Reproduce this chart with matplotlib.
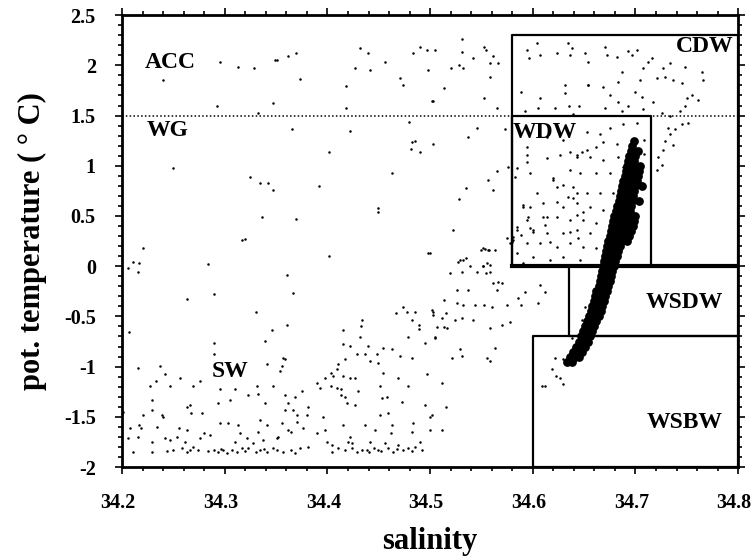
import matplotlib
matplotlib.use("Agg")
import matplotlib.pyplot as plt
import matplotlib.transforms as mtransforms
from matplotlib.ticker import MultipleLocator
import numpy as np

# ---- data: (salinity, pot. temperature) ----
upper_pts = [
    (34.295, 2.03), (34.313, 1.98), (34.328, 1.97), (34.349, 2.05), (34.240, 1.85),
    (34.292, 1.60), (34.347, 1.62), (34.332, 1.53), (34.250, 0.98), (34.325, 0.89),
    (34.334, 0.83), (34.342, 0.83), (34.347, 0.76), (34.336, 0.49), (34.317, 0.26),
    (34.320, 0.27), (34.351, 2.05), (34.362, 2.09), (34.369, 2.12), (34.373, 1.86),
    (34.432, 2.17), (34.439, 2.12), (34.427, 1.97), (34.441, 1.95), (34.418, 1.79),
    (34.456, 2.03), (34.490, 2.18), (34.497, 2.15), (34.483, 2.12), (34.498, 1.95),
    (34.471, 1.87), (34.474, 1.80), (34.502, 1.64), (34.418, 1.58), (34.365, 1.37),
    (34.422, 1.35), (34.479, 1.44), (34.401, 1.14), (34.482, 1.24), (34.485, 1.25),
    (34.481, 1.17), (34.490, 1.14), (34.503, 1.22), (34.463, 0.93), (34.392, 0.80),
    (34.449, 0.58), (34.449, 0.54), (34.369, 0.47), (34.531, 2.26), (34.505, 2.15),
    (34.531, 2.13), (34.542, 2.07), (34.552, 2.18), (34.554, 2.15), (34.561, 2.09),
    (34.558, 2.02), (34.566, 2.02), (34.528, 2.00), (34.532, 1.97), (34.520, 1.97),
    (34.558, 1.88), (34.513, 1.77), (34.503, 1.64), (34.552, 1.67), (34.565, 1.58),
    (34.546, 1.38), (34.537, 1.29), (34.573, 1.37), (34.576, 0.99), (34.565, 0.95),
    (34.556, 0.86), (34.535, 0.78), (34.561, 0.76), (34.528, 0.67), (34.522, 0.36),
]

cdw_pts = [
    (34.594, 2.15), (34.604, 2.22), (34.596, 2.07), (34.607, 2.10), (34.624, 2.12),
    (34.634, 2.22), (34.638, 2.17), (34.636, 2.10), (34.651, 2.12), (34.654, 2.03),
    (34.631, 1.80), (34.631, 1.72), (34.588, 1.73), (34.607, 1.67), (34.654, 1.80),
    (34.605, 1.58), (34.622, 1.58), (34.635, 1.60), (34.645, 1.60), (34.592, 1.55),
    (34.639, 1.52), (34.670, 2.18), (34.672, 2.10), (34.682, 2.08), (34.693, 2.14),
    (34.701, 2.15), (34.697, 2.10), (34.712, 2.03), (34.716, 2.07), (34.707, 1.97),
    (34.727, 1.97), (34.734, 2.02), (34.748, 1.98), (34.687, 1.93), (34.704, 1.85),
    (34.721, 1.87), (34.729, 1.88), (34.737, 1.85), (34.745, 1.82), (34.765, 1.93),
    (34.766, 1.85), (34.654, 1.80), (34.668, 1.78), (34.683, 1.83), (34.700, 1.73),
    (34.706, 1.68), (34.675, 1.70), (34.683, 1.63), (34.693, 1.60), (34.717, 1.63),
    (34.750, 1.67), (34.755, 1.70), (34.761, 1.65), (34.748, 1.60), (34.670, 1.58),
    (34.687, 1.55), (34.707, 1.57), (34.726, 1.53), (34.743, 1.55), (34.734, 1.50),
    (34.745, 1.42), (34.738, 1.37), (34.734, 1.32), (34.729, 1.25), (34.737, 1.21),
    (34.727, 1.16), (34.722, 1.09), (34.726, 1.01), (34.721, 0.96), (34.751, 1.43),
    (34.732, 1.38),
]

wdw_pts = [
    (34.594, 1.19), (34.614, 1.29), (34.629, 1.26), (34.653, 1.34), (34.665, 1.32),
    (34.675, 1.38), (34.688, 1.42), (34.701, 1.43), (34.643, 1.09), (34.653, 1.16),
    (34.662, 1.19), (34.668, 1.24), (34.682, 1.22), (34.698, 1.22), (34.708, 1.26),
    (34.656, 1.09), (34.668, 1.06), (34.683, 1.09), (34.688, 0.99), (34.701, 1.09),
    (34.708, 1.12), (34.620, 0.86), (34.636, 0.96), (34.646, 0.93), (34.662, 0.93),
    (34.675, 0.93), (34.688, 0.86), (34.701, 0.89), (34.597, 0.93), (34.604, 0.73),
    (34.624, 0.79), (34.639, 0.79), (34.653, 0.73), (34.665, 0.73), (34.678, 0.73),
    (34.590, 0.59), (34.610, 0.63), (34.629, 0.59), (34.643, 0.63), (34.656, 0.59),
    (34.668, 0.56), (34.594, 0.46), (34.610, 0.49), (34.624, 0.49), (34.636, 0.46),
    (34.649, 0.46), (34.662, 0.43), (34.585, 0.36), (34.600, 0.36), (34.614, 0.33),
    (34.629, 0.33), (34.643, 0.36), (34.656, 0.33), (34.581, 0.26), (34.594, 0.23),
    (34.607, 0.23), (34.624, 0.19), (34.636, 0.23), (34.649, 0.19), (34.662, 0.18),
    (34.585, 0.13), (34.600, 0.09), (34.617, 0.06), (34.629, 0.09), (34.646, 0.06),
    (34.590, 0.03), (34.590, 0.61), (34.597, 0.59), (34.595, 0.49), (34.585, 0.39),
    (34.588, 0.31), (34.597, 0.38), (34.600, 0.34), (34.614, 0.49), (34.612, 0.41),
    (34.624, 0.64), (34.634, 0.69), (34.639, 0.68), (34.643, 0.73), (34.581, 0.29),
    (34.580, 0.24), (34.643, 0.51), (34.649, 0.54), (34.636, 0.34), (34.644, 0.28),
    (34.617, 0.24), (34.626, 1.11), (34.643, 1.11), (34.648, 1.14), (34.636, 1.14),
    (34.594, 1.11), (34.594, 1.04), (34.614, 1.08), (34.585, 0.98), (34.583, 0.89),
    (34.620, 0.88), (34.629, 0.81), (34.575, 0.28), (34.550, 0.16), (34.553, 0.17),
    (34.557, 0.16), (34.529, 0.06), (34.535, 0.08), (34.551, 0.00), (34.555, 0.03),
    (34.539, 0.00), (34.500, 0.13),
]

mid_pts = [
    (34.551, 0.18), (34.556, 0.16), (34.563, 0.16), (34.578, 0.23), (34.527, 0.04),
    (34.532, 0.06), (34.519, -0.07), (34.531, -0.06), (34.546, -0.06), (34.551, 0.00),
    (34.558, 0.01), (34.558, -0.06), (34.554, -0.07), (34.561, -0.17), (34.566, -0.16),
    (34.570, -0.17), (34.565, -0.24), (34.526, -0.24), (34.537, -0.24), (34.607, -0.19),
    (34.612, -0.26), (34.592, -0.26), (34.513, -0.34), (34.526, -0.37), (34.532, -0.39),
    (34.544, -0.39), (34.552, -0.39), (34.560, -0.41), (34.575, -0.39), (34.586, -0.32),
    (34.588, -0.39), (34.605, -0.37), (34.503, -0.46), (34.515, -0.47), (34.524, -0.54),
    (34.531, -0.52), (34.512, -0.52), (34.513, -0.61), (34.507, -0.61), (34.516, -0.62),
    (34.542, -0.54), (34.558, -0.62), (34.570, -0.59), (34.578, -0.56), (34.505, -0.71),
    (34.529, -0.82), (34.531, -0.89), (34.521, -0.91), (34.563, -0.81), (34.555, -0.91),
    (34.558, -0.94), (34.512, -1.16), (34.515, -1.40), (34.502, -1.48), (34.512, -1.63),
    (34.401, 0.10), (34.498, 0.13), (34.361, -0.09), (34.366, -0.27), (34.361, -0.59),
    (34.357, -0.91), (34.359, -0.92), (34.356, -0.99), (34.354, -1.04), (34.474, -0.41),
    (34.467, -0.47), (34.477, -0.46), (34.485, -0.46), (34.502, -0.44), (34.503, -0.49),
    (34.482, -0.54), (34.489, -0.59), (34.489, -0.63), (34.434, -0.54), (34.433, -0.60),
    (34.415, -0.64), (34.478, -0.71), (34.495, -0.76), (34.505, -0.72), (34.432, -0.71),
    (34.415, -0.77), (34.422, -0.79), (34.439, -0.79), (34.454, -0.81), (34.463, -0.82),
    (34.429, -0.87), (34.437, -0.87), (34.448, -0.87), (34.471, -0.89), (34.482, -0.91),
    (34.417, -0.92), (34.441, -0.94), (34.449, -0.96), (34.410, -0.97), (34.409, -1.02),
    (34.403, -1.06), (34.398, -1.11), (34.405, -1.09), (34.415, -1.09), (34.427, -1.11),
    (34.422, -1.11), (34.454, -1.06), (34.469, -1.11), (34.478, -1.19), (34.497, -1.07),
    (34.390, -1.16), (34.393, -1.21), (34.403, -1.19), (34.409, -1.21), (34.413, -1.22),
    (34.430, -1.24), (34.451, -1.19), (34.413, -1.28), (34.417, -1.30), (34.453, -1.31),
    (34.458, -1.30), (34.359, -1.28), (34.368, -1.30), (34.362, -1.36), (34.473, -1.35),
    (34.419, -1.36), (34.427, -1.38), (34.375, -1.24), (34.381, -1.40), (34.366, -1.43),
    (34.359, -1.43), (34.380, -1.48), (34.370, -1.48), (34.396, -1.50), (34.451, -1.48),
    (34.459, -1.46), (34.500, -1.50), (34.495, -1.38), (34.356, -1.56), (34.370, -1.55),
    (34.376, -1.61), (34.362, -1.63), (34.364, -1.65), (34.352, -1.70), (34.390, -1.66),
    (34.398, -1.63), (34.415, -1.58), (34.437, -1.58), (34.446, -1.63), (34.463, -1.58),
    (34.462, -1.66), (34.483, -1.56), (34.482, -1.65), (34.500, -1.63), (34.422, -1.70),
    (34.400, -1.75), (34.420, -1.75), (34.441, -1.75),
]

sw_pts = [
    (34.220, 0.18), (34.211, 0.04), (34.216, 0.03), (34.206, -0.02), (34.215, -0.06),
    (34.284, 0.02), (34.289, -0.28), (34.263, -0.33), (34.330, -0.46), (34.346, -0.64),
    (34.339, -0.74), (34.207, -0.66), (34.289, -0.76), (34.289, -0.87), (34.215, -1.01),
    (34.237, -0.99), (34.242, -1.07), (34.341, -0.97), (34.256, -1.11), (34.227, -1.19),
    (34.233, -1.14), (34.247, -1.19), (34.269, -1.19), (34.276, -1.14), (34.295, -1.22),
    (34.310, -1.22), (34.331, -1.19), (34.347, -1.19), (34.305, -1.33), (34.323, -1.28),
    (34.332, -1.27), (34.339, -1.36), (34.229, -1.33), (34.263, -1.40), (34.266, -1.38),
    (34.267, -1.46), (34.278, -1.46), (34.293, -1.36), (34.201, -1.45), (34.220, -1.48),
    (34.229, -1.43), (34.239, -1.48), (34.240, -1.50), (34.216, -1.58), (34.218, -1.61),
    (34.208, -1.61), (34.234, -1.60), (34.255, -1.61), (34.263, -1.63), (34.295, -1.56),
    (34.303, -1.56), (34.313, -1.58), (34.334, -1.53), (34.341, -1.58), (34.332, -1.65),
    (34.206, -1.71), (34.215, -1.70), (34.229, -1.75), (34.242, -1.71), (34.247, -1.73),
    (34.253, -1.70), (34.261, -1.75), (34.276, -1.71), (34.280, -1.66), (34.286, -1.68),
    (34.315, -1.66), (34.322, -1.71),
]

bottom_pts = [
    (34.211, -1.85), (34.229, -1.85), (34.244, -1.84), (34.250, -1.83), (34.258, -1.81),
    (34.263, -1.85), (34.266, -1.83), (34.269, -1.80), (34.274, -1.83), (34.289, -1.83),
    (34.293, -1.85), (34.298, -1.83), (34.302, -1.86), (34.307, -1.83), (34.310, -1.75),
    (34.312, -1.85), (34.317, -1.81), (34.323, -1.81), (34.327, -1.76), (34.330, -1.85),
    (34.334, -1.83), (34.337, -1.73), (34.341, -1.85), (34.347, -1.81), (34.351, -1.71),
    (34.351, -1.83), (34.357, -1.85), (34.364, -1.83), (34.368, -1.86), (34.373, -1.81),
    (34.381, -1.80), (34.404, -1.85), (34.410, -1.81), (34.417, -1.83), (34.424, -1.81),
    (34.429, -1.85), (34.434, -1.83), (34.440, -1.85), (34.445, -1.81), (34.449, -1.83),
    (34.456, -1.76), (34.459, -1.81), (34.464, -1.85), (34.469, -1.78), (34.474, -1.83),
    (34.478, -1.81), (34.485, -1.80), (34.490, -1.75), (34.492, -1.83), (34.404, -1.78),
    (34.424, -1.76), (34.284, -1.84), (34.296, -1.82), (34.320, -1.84), (34.338, -1.82),
    (34.438, -1.83), (34.452, -1.84), (34.468, -1.82), (34.482, -1.84),
]

# points below the dense band (toward WSBW)
tail_pts = [
    (34.622, -0.91), (34.629, -0.92), (34.623, -1.09), (34.626, -1.11), (34.629, -1.17),
    (34.612, -1.19), (34.609, -1.19), (34.619, -1.02), (34.636, -0.87), (34.639, -0.84),
    (34.643, -0.74), (34.638, -0.72), (34.648, -0.54), (34.651, -0.41),
]

# dense WSDW/WDW core: temperature rows with the salinities seen along each row
core_temp = [-0.95, -0.90, -0.85, -0.80, -0.75, -0.70, -0.65, -0.60, -0.55, -0.50,
             -0.45, -0.40, -0.35, -0.30, -0.25, -0.20, -0.15, -0.10, -0.05, 0.00,
             0.05, 0.10, 0.15, 0.20, 0.25, 0.30, 0.35, 0.40, 0.45, 0.50,
             0.55, 0.60, 0.65, 0.70, 0.75, 0.80, 0.85, 0.90, 0.95, 1.00,
             1.05, 1.10, 1.15, 1.20, 1.25]
core_sal = [
    [34.633, 34.638], [34.636, 34.641, 34.645], [34.639, 34.644, 34.648],
    [34.642, 34.647, 34.651], [34.645, 34.650, 34.654], [34.647, 34.652, 34.656],
    [34.649, 34.654, 34.658], [34.651, 34.656, 34.660], [34.653, 34.658, 34.662],
    [34.655, 34.660, 34.664], [34.657, 34.661, 34.666], [34.658, 34.663, 34.667],
    [34.660, 34.664, 34.669], [34.661, 34.666, 34.670], [34.662, 34.667, 34.672],
    [34.664, 34.668, 34.673], [34.665, 34.670, 34.675], [34.666, 34.671, 34.676],
    [34.667, 34.672, 34.677], [34.668, 34.673, 34.679], [34.669, 34.674, 34.680],
    [34.670, 34.676, 34.682], [34.671, 34.677, 34.683], [34.672, 34.678, 34.685],
    [34.673, 34.680, 34.687, 34.692], [34.675, 34.681, 34.688, 34.694],
    [34.676, 34.683, 34.690, 34.696], [34.677, 34.684, 34.691, 34.698],
    [34.678, 34.685, 34.692, 34.699], [34.679, 34.686, 34.693, 34.700],
    [34.681, 34.688, 34.695], [34.682, 34.689, 34.696], [34.684, 34.690, 34.697, 34.703],
    [34.685, 34.691, 34.698], [34.686, 34.692, 34.699], [34.687, 34.694, 34.700, 34.706],
    [34.688, 34.695, 34.701], [34.690, 34.696, 34.702], [34.691, 34.697, 34.703],
    [34.692, 34.698, 34.704], [34.693, 34.699], [34.694, 34.700], [34.696, 34.702],
    [34.697], [34.699],
]

# water mass boxes: name, salinity range, temperature range
box_names = ["CDW", "WDW", "WSDW", "WSBW"]
box_sal = [(34.58, 34.8), (34.58, 34.715), (34.635, 34.8), (34.60, 34.8)]
box_temp = [(0.0, 2.3), (0.0, 1.5), (-0.7, 0.0), (-2.0, -0.7)]
acc_wg_limit = 1.5

plt.rcParams['font.family'] = ['Liberation Serif', 'DejaVu Serif']
plt.rcParams['font.weight'] = 'bold'

fig = plt.figure(figsize=(7.54, 5.60), dpi=100)
ax = fig.add_axes([0.162, 0.166, 0.817, 0.807])

scatter = np.array(upper_pts + cdw_pts + wdw_pts + mid_pts + sw_pts + bottom_pts + tail_pts)
ax.plot(scatter[:, 0], scatter[:, 1], 'o', ms=1.8, color='black', mew=0)

cs, ct = [], []
for t, row in zip(core_temp, core_sal):
    for s in row:
        cs.append(s)
        ct.append(t)
ax.plot(cs, ct, 'o', ms=6.3, color='black', mew=0)

# boxes
for (s0, s1), (t0, t1) in zip(box_sal, box_temp):
    ax.plot([s0, s1, s1, s0, s0], [t0, t0, t1, t1, t0], color='black', lw=1.6,
            solid_capstyle='butt')
ax.plot([box_sal[0][0], 34.8], [0, 0], color='black', lw=3)
ax.axhline(acc_wg_limit, color='black', lw=1.1, ls=(0, (1, 1.5)))

lab = dict(fontsize=17, fontweight='bold', va='center')
ax.text(34.222, 2.03, "ACC", ha='left', **lab)
ax.text(34.224, 1.35, "WG", ha='left', **lab)
ax.text(34.287, -1.05, "SW", ha='left', **lab)
ax.text(34.580, 1.33, "WDW", ha='left', **lab)
ax.text(34.795, 2.19, "CDW", ha='right', **lab)
ax.text(34.785, -0.36, "WSDW", ha='right', **lab)
ax.text(34.785, -1.56, "WSBW", ha='right', **lab)

ax.set_xlim(34.2, 34.8)
ax.set_ylim(-2, 2.5)
ax.xaxis.set_major_locator(MultipleLocator(0.1))
ax.xaxis.set_minor_locator(MultipleLocator(0.02))
ax.yaxis.set_major_locator(MultipleLocator(0.5))
ax.yaxis.set_minor_locator(MultipleLocator(0.1))
ax.set_xticklabels([f"{v:g}" for v in ax.get_xticks()])
ax.set_yticklabels([f"{v:g}" for v in ax.get_yticks()])
ax.tick_params(which='both', direction='out', top=True, right=True, width=1.2)
ax.tick_params(which='major', length=5, labelsize=14.5, pad=14)
ax.tick_params(which='minor', length=3)
for sp in ax.spines.values():
    sp.set_linewidth(2)

# x tick labels sit a little left of their ticks in the original
shift = mtransforms.ScaledTranslation(-4 / 100, 0, fig.dpi_scale_trans)
for lbl in ax.get_xticklabels():
    lbl.set_transform(lbl.get_transform() + shift)

ax.set_xlabel("salinity", fontsize=22, fontweight='bold', labelpad=10)
ax.set_ylabel("pot. temperature ( ° C)", fontsize=22, fontweight='bold', labelpad=12)

fig.savefig("out.png", dpi=100)
